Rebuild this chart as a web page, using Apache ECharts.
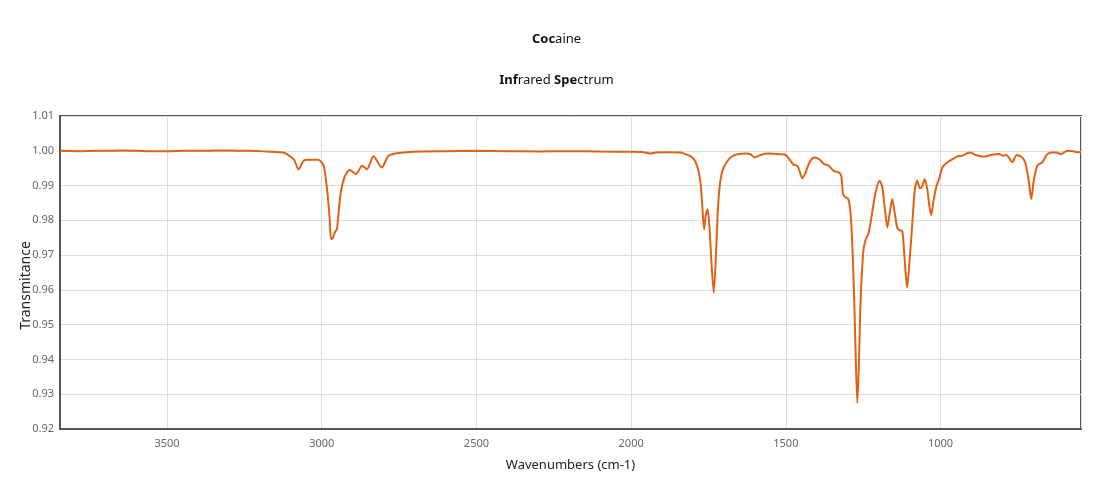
<!DOCTYPE html>
<html>
<head>
<meta charset="utf-8">
<title>Cocaine - Infrared Spectrum</title>
<script src="https://cdn.jsdelivr.net/npm/echarts@6/dist/echarts.min.js"></script>
<style>
    html, body { margin: 0; padding: 0; background: #fff; }
    #ir_chart { width: 1113px; height: 495px; }
</style>
</head>
<body>
<div id="ir_chart"></div>
<script>
var wavenumbers = [
    3846, 3780, 3700, 3640, 3560, 3500, 3440, 3380, 3300, 3250, 3200, 3160, 3124,
    3091, 3075, 3059, 3048, 3011, 2994, 2983, 2975, 2970, 2964, 2957, 2951, 2940,
    2927, 2910, 2889, 2870, 2854, 2833, 2806, 2784, 2757, 2682, 2600, 2500, 2400,
    2300, 2200, 2100, 2000, 1960, 1940, 1920, 1880, 1841, 1803, 1787, 1776, 1770,
    1764, 1759, 1753, 1747, 1741, 1733, 1725, 1719, 1711, 1701, 1679, 1657, 1625,
    1614, 1601, 1582, 1555, 1517, 1501, 1485, 1474, 1463, 1456, 1447, 1437, 1426,
    1415, 1404, 1390, 1377, 1361, 1345, 1329, 1321, 1315, 1307, 1298, 1291, 1286,
    1280, 1275, 1269, 1264, 1259, 1250, 1243, 1232, 1221, 1210, 1197, 1188, 1181,
    1172, 1164, 1156, 1149, 1140, 1133, 1124, 1119, 1113, 1108, 1099, 1091, 1083,
    1075, 1067, 1059, 1051, 1043, 1036, 1030, 1022, 1013, 1005, 994, 978, 957,
    946, 930, 914, 903, 887, 860, 838, 811, 797, 787, 768, 754, 736, 725, 714,
    707, 698, 687, 671, 655, 639, 625, 612, 590, 569, 546
];
var transmittance = [
    1.0000, 0.9999, 1.0000, 1.0001, 0.9999, 0.9999, 1.0000, 1.0000, 1.0001, 1.0000, 0.9999, 0.9997, 0.9995,
    0.9976, 0.9947, 0.9971, 0.9974, 0.9974, 0.9957, 0.9890, 0.9813, 0.9746, 0.9750, 0.9767, 0.9774, 0.9870,
    0.9923, 0.9945, 0.9933, 0.9957, 0.9947, 0.9984, 0.9952, 0.9986, 0.9993, 0.9998, 0.9999, 1.0000, 0.9999,
    0.9998, 0.9999, 0.9998, 0.9997, 0.9996, 0.9992, 0.9995, 0.9996, 0.9995, 0.9981, 0.9957, 0.9909, 0.9841,
    0.9774, 0.9813, 0.9832, 0.9784, 0.9688, 0.9592, 0.9717, 0.9841, 0.9918, 0.9952, 0.9981, 0.9990, 0.9992,
    0.9990, 0.9981, 0.9988, 0.9992, 0.9990, 0.9988, 0.9971, 0.9959, 0.9957, 0.9942, 0.9921, 0.9936, 0.9962,
    0.9978, 0.9981, 0.9974, 0.9962, 0.9957, 0.9942, 0.9938, 0.9928, 0.9875, 0.9866, 0.9861, 0.9822, 0.9746,
    0.9601, 0.9438, 0.9275, 0.9380, 0.9553, 0.9707, 0.9741, 0.9765, 0.9822, 0.9880, 0.9914, 0.9895, 0.9841,
    0.9779, 0.9822, 0.9861, 0.9827, 0.9779, 0.9772, 0.9769, 0.9726, 0.9650, 0.9606, 0.9697, 0.9794, 0.9890,
    0.9914, 0.9892, 0.9899, 0.9918, 0.9890, 0.9841, 0.9815, 0.9861, 0.9899, 0.9918, 0.9952, 0.9967, 0.9978,
    0.9984, 0.9986, 0.9993, 0.9995, 0.9988, 0.9983, 0.9988, 0.9991, 0.9986, 0.9988, 0.9967, 0.9988, 0.9981, 0.9962, 0.9909,
    0.9861, 0.9918, 0.9957, 0.9967, 0.9990, 0.9995, 0.9995, 0.9990, 1.0000, 0.9998, 0.9995
];

var chartFont = '"Noto Sans", "Open Sans", sans-serif';
var irChart = echarts.init(document.getElementById('ir_chart'), null, {renderer: 'canvas'});

function buildSpectrum() {
    var points = [];
    for (var i = 0; i < wavenumbers.length; i++) {
        points.push([wavenumbers[i], transmittance[i]]);
    }
    return points;
}

irChart.setOption({
    animation: false,
    backgroundColor: '#fff',
    title: [{
        text: '{b|Coc}{n|aine}',
        left: 'center',
        top: 28,
        textStyle: {
            rich: {
                b: {fontFamily: chartFont, fontSize: 13, fontWeight: 'bold', color: '#111'},
                n: {fontFamily: chartFont, fontSize: 13, fontWeight: 'normal', color: '#111'}
            }
        }
    }, {
        text: '{b|Inf}{n|rared }{b|Spe}{n|ctrum}',
        left: 'center',
        top: 69,
        textStyle: {
            rich: {
                b: {fontFamily: chartFont, fontSize: 13, fontWeight: 'bold', color: '#111'},
                n: {fontFamily: chartFont, fontSize: 13, fontWeight: 'normal', color: '#111'}
            }
        }
    }],
    grid: {
        left: 60,
        right: 32,
        top: 116,
        bottom: 66,
        show: true,
        borderColor: '#555',
        borderWidth: 2
    },
    xAxis: {
        type: 'value',
        inverse: true,
        min: 546,
        max: 3846,
        name: 'Wavenumbers (cm-1)',
        nameLocation: 'middle',
        nameGap: 30,
        nameTextStyle: {fontFamily: chartFont, fontSize: 13, color: '#222'},
        axisLine: {show: true, lineStyle: {color: '#555', width: 2}},
        axisTick: {show: false},
        axisLabel: {
            fontFamily: chartFont,
            fontSize: 11,
            color: '#666',
            margin: 9,
            showMinLabel: false,
            showMaxLabel: false,
            formatter: function (v) { return String(Math.round(v)); }
        },
        splitLine: {show: true, lineStyle: {color: '#dcdcdc', width: 1}}
    },
    yAxis: {
        type: 'value',
        min: 0.92,
        max: 1.01,
        interval: 0.01,
        name: 'Transmitance',
        nameLocation: 'middle',
        nameGap: 27,
        nameMoveOverlap: false,
        nameTextStyle: {fontFamily: chartFont, fontSize: 14, color: '#222', padding: [0, 26, 0, 0]},
        axisLine: {show: true, lineStyle: {color: '#555', width: 2}},
        axisTick: {show: false},
        axisLabel: {
            fontFamily: chartFont,
            fontSize: 11,
            color: '#666',
            margin: 6,
            formatter: function (v) { return v.toFixed(2); }
        },
        splitLine: {show: true, lineStyle: {color: '#dcdcdc', width: 1}}
    },
    series: [{
        name: 'Cocaine',
        type: 'line',
        data: buildSpectrum(),
        showSymbol: false,
        smooth: 0.25,
        lineStyle: {color: '#e06214', width: 2},
        itemStyle: {color: '#e06214'}
    }]
});
</script>
</body>
</html>
